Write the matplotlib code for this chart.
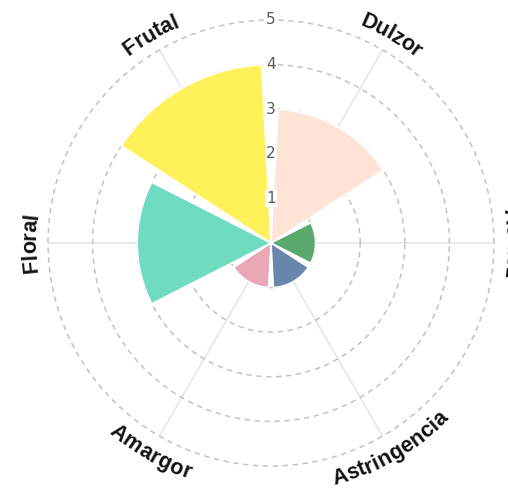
import numpy as np
import matplotlib
matplotlib.use("Agg")
import matplotlib.pyplot as plt
from matplotlib.font_manager import FontProperties

# Perfil sensorial: categorías, puntuaciones y colores
categorias = ["Dulzor", "Acidez", "Astringencia", "Amargor", "Floral", "Frutal"]
valores = [3, 1, 1, 1, 3, 4]
colores = ["#FFE3D6", "#5AA86D", "#6987AC", "#E8A8B6", "#6FDCC1", "#FFF15A"]
escala = [1, 2, 3, 4, 5]

W, H = 508, 488
cx, cy = 271, 245          # centro del gráfico (px, desde abajo)
R5 = 223                   # radio del círculo 5 en px

fig = plt.figure(figsize=(W / 100, H / 100), dpi=100)
ax = fig.add_axes([(cx - R5) / W, (cy - R5) / H, 2 * R5 / W, 2 * R5 / H],
                  projection="polar")

# ángulos: Dulzor a 60° y luego en sentido horario cada 60°
angulos = np.radians((60 - 60 * np.arange(len(categorias))) % 360)
ancho = np.radians(60) * 0.9

ax.set_axisbelow(True)
ax.bar(angulos, valores, width=ancho, color=colores, edgecolor="white",
       linewidth=1.2, zorder=2)

ax.set_xlim(0, 2 * np.pi)
ax.set_ylim(0, 5)
ax.set_yticks(escala)
ax.set_yticklabels([])
ax.set_xticks(angulos)
ax.set_xticklabels([])
ax.yaxis.grid(True, color="#c2c2c2", linestyle=(0, (3.5, 3)), linewidth=1.1)
ax.xaxis.grid(True, color="#e6e6e6", linestyle="-", linewidth=1.2)
for linea in ax.yaxis.get_gridlines():
    linea.set_clip_on(False)
ax.spines["polar"].set_visible(False)
ax.tick_params(length=0)

# números de la escala sobre el eje vertical
for v in escala:
    ax.text(np.pi / 2, v, str(v), ha="center", va="center", fontsize=11,
            color="#5a5a5a", zorder=4,
            bbox=dict(boxstyle="square,pad=0.05", fc="white", ec="none"))

# etiquetas curvas alrededor del círculo
prop = FontProperties(family="Liberation Sans", weight="bold", size=15.5)
renderer = fig.canvas.get_renderer()
px = 5 / R5


def etiqueta_curva(texto, ang_deg):
    anchos = [0.0]
    for i in range(1, len(texto) + 1):
        anchos.append(renderer.get_text_width_height_descent(texto[:i], prop, ismath=False)[0])
    total = anchos[-1]
    arriba = 0 <= ang_deg % 360 <= 180
    R = 242
    for i, ch in enumerate(texto):
        s = (anchos[i] + anchos[i + 1]) / 2 - total / 2
        if arriba:
            a = ang_deg - np.degrees(s / R)
            rot = a - 90
            rb = 235
        else:
            a = ang_deg + np.degrees(s / R)
            rot = a + 90
            rb = 250
        ax.text(np.radians(a), rb * px, ch, rotation=rot, rotation_mode="anchor",
                ha="center", va="baseline", fontproperties=prop, color="#111111",
                clip_on=False)


for nombre, ang in zip(categorias, np.degrees(angulos)):
    etiqueta_curva(nombre, ang)

fig.savefig("out.png", dpi=100, facecolor="white")
